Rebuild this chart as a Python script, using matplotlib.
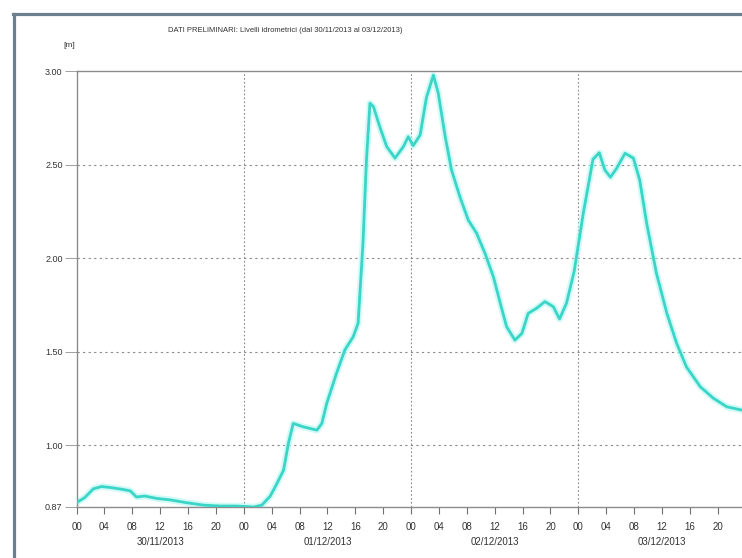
import numpy as np
import matplotlib
matplotlib.use("Agg")
import matplotlib.pyplot as plt
from matplotlib.lines import Line2D
from matplotlib.transforms import blended_transform_factory

# hours since 30/11/2013 00:00 and water level [m]
hours = [0, 1.2, 2.4, 3.6, 4.8, 6.2, 7.7, 8.6, 9.8, 11.5, 13.4, 15.8, 18.2, 20.6,
         23.0, 25.4, 26.6, 27.8, 28.6, 29.7, 30.4, 31.1, 32.5, 34.5, 35.2, 35.9,
         37.3, 38.5, 39.7, 40.4, 41.1, 41.6, 42.1, 42.6, 43.5, 44.5, 45.7, 46.9,
         47.6, 48.3, 49.3, 50.2, 51.2, 51.9, 52.9, 53.8, 55.0, 56.2, 57.4, 58.6,
         59.8, 60.8, 61.7, 62.9, 63.9, 64.8, 66.0, 67.2, 68.4, 69.3, 70.3, 71.4,
         72.7, 74.1, 75.0, 75.8, 76.6, 77.5, 78.7, 79.9, 80.8, 81.8, 83.2, 84.7,
         86.1, 87.5, 89.5, 91.4, 93.3, 95.5]
levels = [0.879, 0.890, 0.908, 0.913, 0.911, 0.908, 0.904, 0.891, 0.893, 0.888,
          0.885, 0.879, 0.874, 0.872, 0.872, 0.870, 0.874, 0.893, 0.915, 0.947,
          1.009, 1.116, 1.098, 1.080, 1.116, 1.223, 1.384, 1.509, 1.580, 1.652,
          2.080, 2.527, 2.830, 2.812, 2.705, 2.598, 2.536, 2.598, 2.651, 2.603,
          2.660, 2.860, 2.980, 2.884, 2.651, 2.473, 2.330, 2.205, 2.134, 2.027,
          1.902, 1.759, 1.634, 1.562, 1.598, 1.705, 1.732, 1.768, 1.741, 1.675,
          1.760, 1.930, 2.240, 2.530, 2.565, 2.473, 2.434, 2.482, 2.562, 2.536,
          2.419, 2.188, 1.920, 1.705, 1.545, 1.419, 1.312, 1.250, 1.205, 1.187]

y_ticks = [0.87, 1.00, 1.50, 2.00, 2.50, 3.00]
hour_labels = ["00", "04", "08", "12", "16", "20"]
days = ["30/11/2013", "01/12/2013", "02/12/2013", "03/12/2013"]
title = "DATI PRELIMINARI: Livelli idrometrici (dal 30/11/2013 al 03/12/2013)"

plt.rcParams["font.family"] = ["Liberation Sans", "DejaVu Sans"]

# the band under 1.00 m is stretched on the vertical axis
K = 2.55


def fwd(v):
    v = np.asarray(v, dtype=float)
    return np.where(v < 1, 1 - (1 - v) * K, v)


def inv(t):
    t = np.asarray(t, dtype=float)
    return np.where(t < 1, 1 - (1 - t) / K, t)


fig = plt.figure(figsize=(7.42, 5.58), dpi=100)
ax = fig.add_axes([0.1031, 0.0914, 0.9018, 0.7805])
ax.set_yscale("function", functions=(fwd, inv))
ax.set_xlim(0, 96)
ax.set_ylim(0.87, 3.0)

# grid
for v in [1.0, 1.5, 2.0, 2.5]:
    ax.axhline(v, color="#8a8a8a", lw=0.8, dashes=(2, 3), zorder=1)
for h in [24, 48, 72]:
    ax.axvline(h, color="#8a8a8a", lw=0.8, dashes=(1.5, 2), zorder=1)

# level curve with a soft halo
ax.plot(hours, levels, color="#b2f7f1", lw=4.8, alpha=0.6, solid_capstyle="round", zorder=2)
ax.plot(hours, levels, color="#3ad5c7", lw=2.0, solid_joinstyle="round", zorder=3)

ax.set_yticks(y_ticks)
ax.set_yticklabels([f"{v:.2f}" for v in y_ticks])
ax.set_xticks(np.arange(0, 96, 4))
ax.set_xticklabels([hour_labels[i % 6] for i in range(24)])
ax.tick_params(axis="y", length=9, width=0.6, color="#909090", pad=1,
               labelsize=6.5, labelcolor="#333333")
ax.tick_params(axis="x", length=5, width=0.8, color="#707070", pad=6,
               labelsize=7, labelcolor="#333333")

for side in ["left", "bottom", "top"]:
    ax.spines[side].set_color("#8c8c8c")
    ax.spines[side].set_linewidth(1.0)
ax.spines["right"].set_visible(False)

# date under each day
tr = blended_transform_factory(ax.transData, fig.transFigure)
for i, d in enumerate(days):
    ax.text(12 + 24 * i, 0.029, d, transform=tr, ha="center", va="center",
            fontsize=7, color="#333333")

fig.text(0.385, 0.946, title, ha="center", va="center", fontsize=5.5, color="#333333")
fig.text(0.094, 0.919, "[m]", ha="center", va="center", fontsize=6, color="#333333")

# window frame
fc = "#6c7f8e"
fig.add_artist(Line2D([0.0182, 0.0182], [-0.1, 0.9758], transform=fig.transFigure,
                      color=fc, lw=2.3))
fig.add_artist(Line2D([0.0172, 1.1], [0.9758, 0.9758], transform=fig.transFigure,
                      color=fc, lw=2.3))

fig.savefig("out.png", dpi=100)
